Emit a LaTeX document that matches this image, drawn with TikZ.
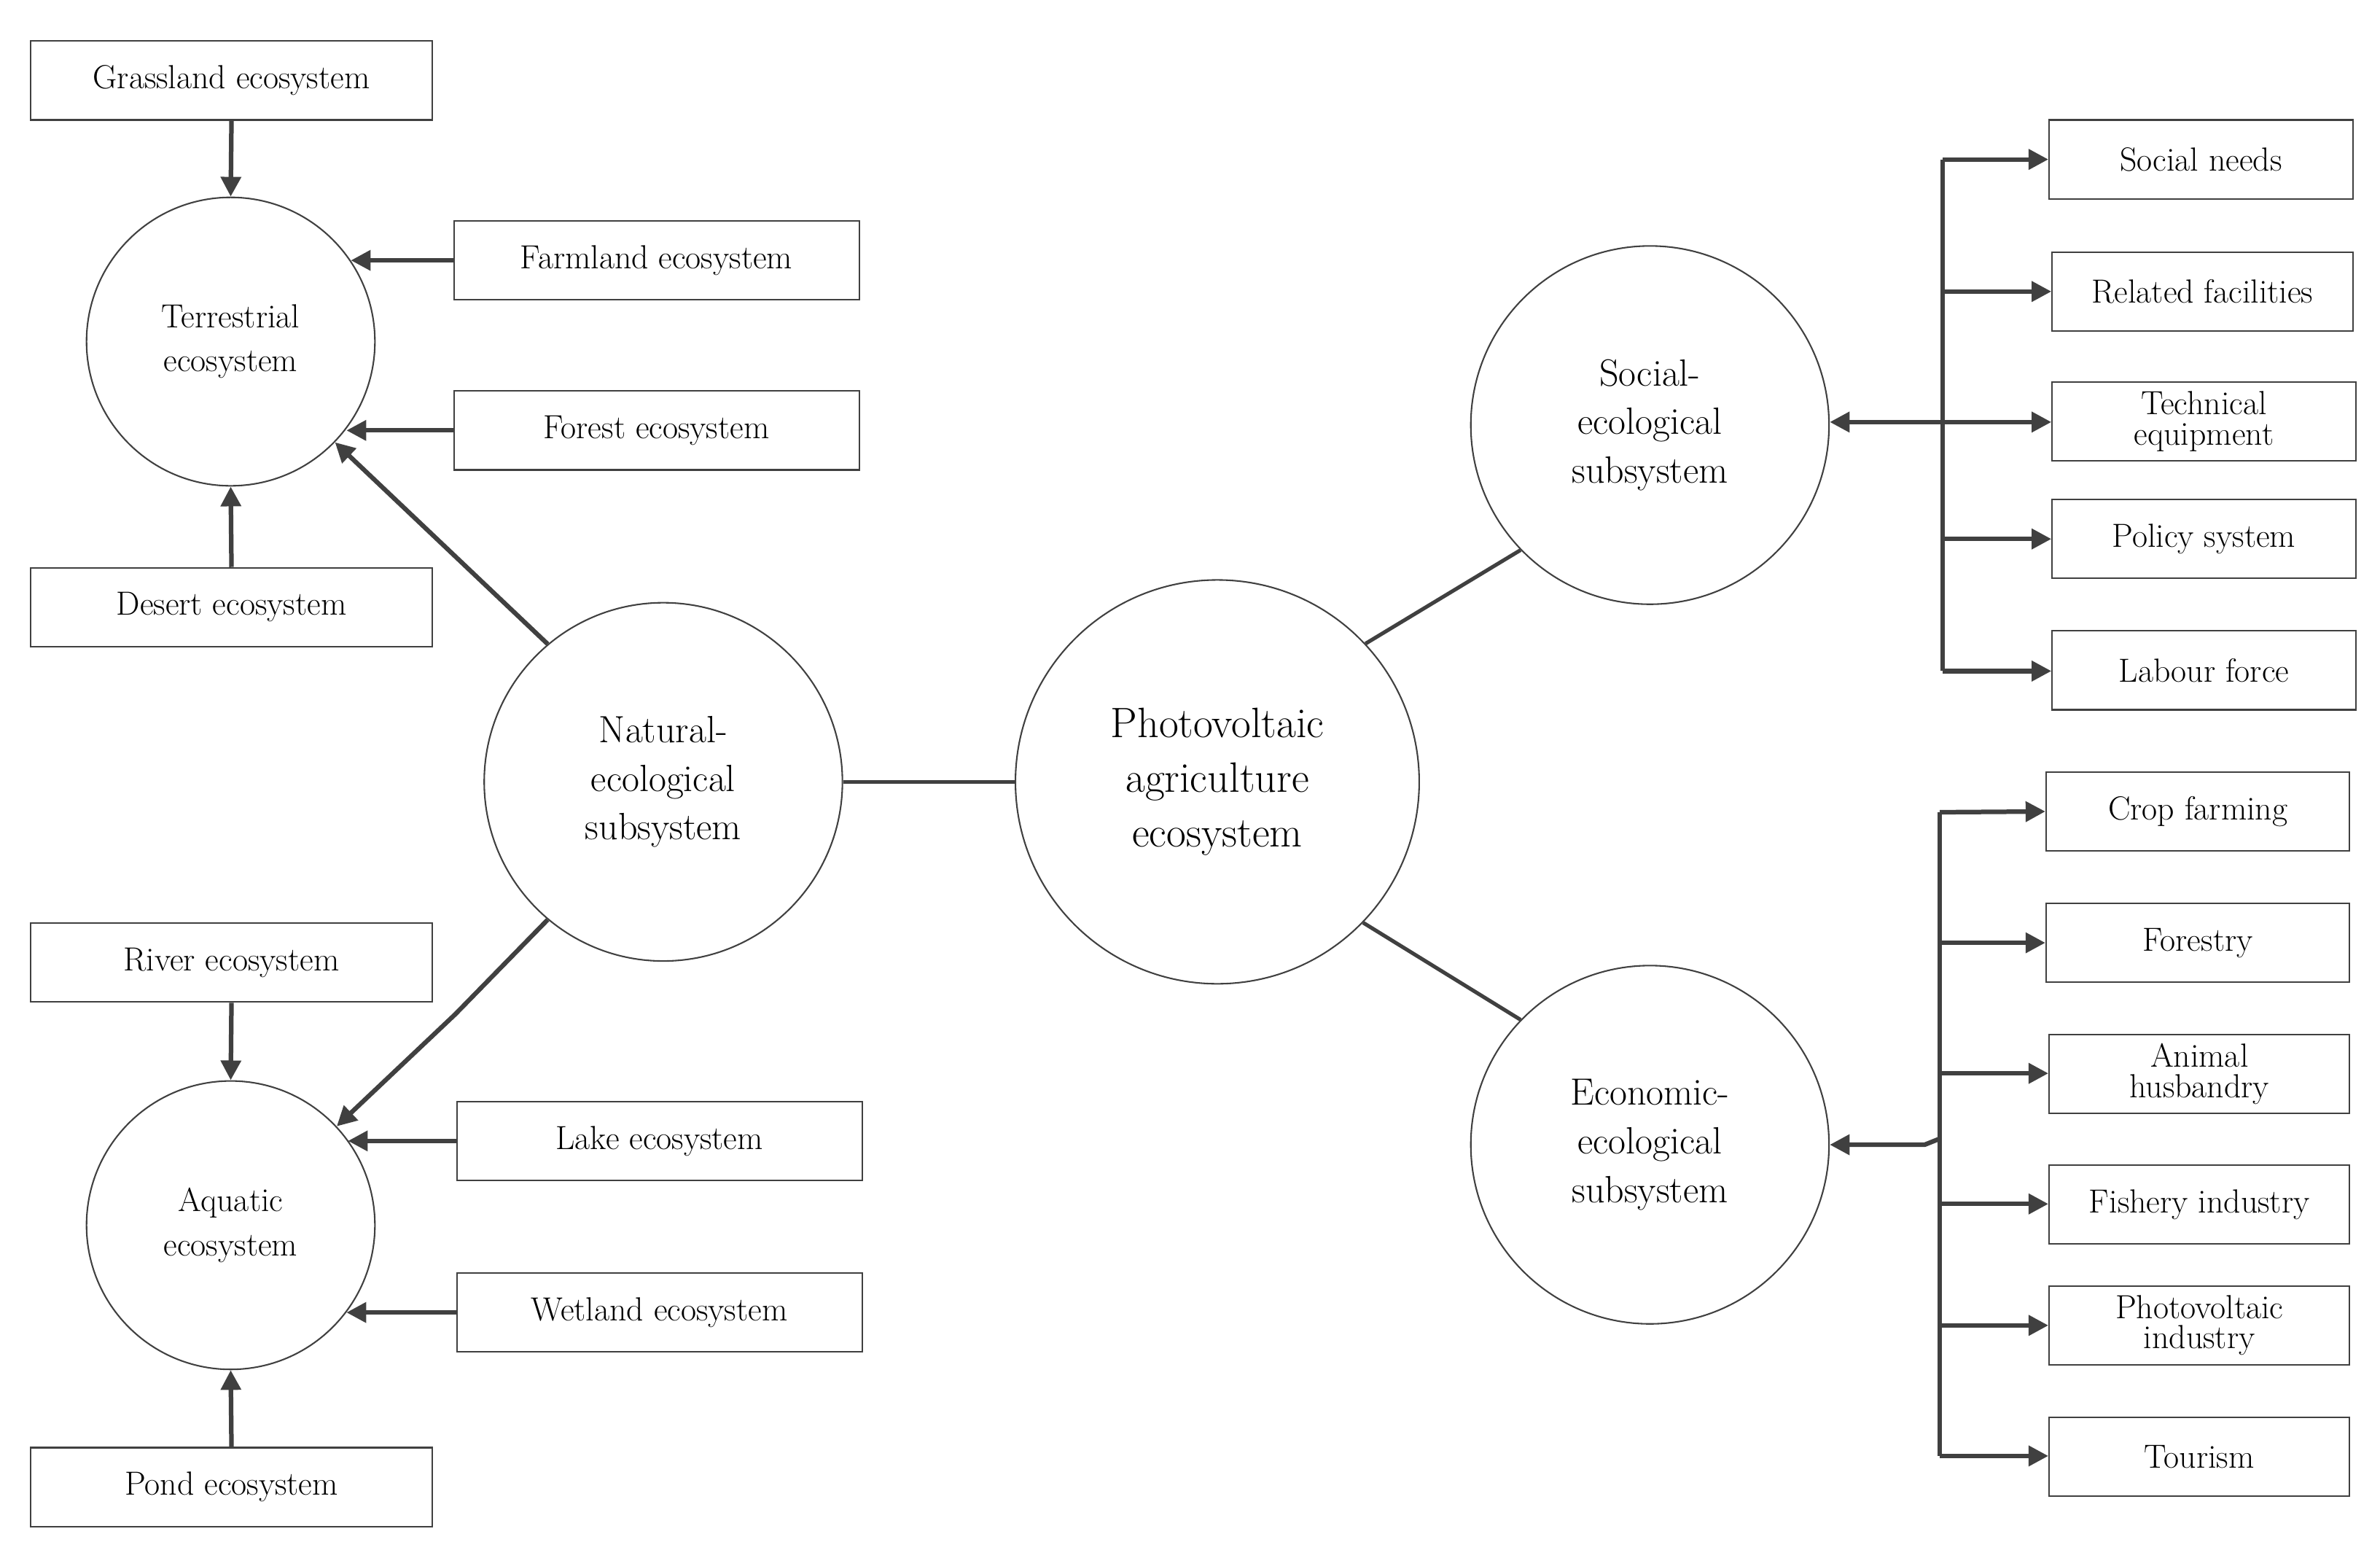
\documentclass[tikz,border=0pt]{standalone}
\usetikzlibrary{arrows.meta}
\definecolor{ln}{RGB}{64,64,64}
\begin{document}
\begin{tikzpicture}[x=1pt,y=-1pt,
 box/.style={draw=ln,line width=1pt,minimum height=52pt,inner sep=0pt,align=center,font=\fontsize{22}{23}\selectfont},
 circ/.style={draw=ln,line width=1pt,circle,inner sep=0pt,align=center},
 con/.style={ln,line width=3pt},
 arr/.style={con,-{Triangle[length=13pt,width=13pt]}}]
\useasboundingbox (0,0) rectangle (1568,1028);
\newcommand{\bx}[6]{\node[box,minimum width=#4-#2] (#1) at ({(#2+#4)/2},{(#3+#5)/2}) {#6};}
\bx{gras}{20}{27}{285}{79}{Grassland ecosystem}
\bx{farm}{299}{145}{566}{198}{Farmland ecosystem}
\bx{fore}{299}{258}{566}{309}{Forest ecosystem}
\bx{dese}{20}{374}{285}{426}{Desert ecosystem}
\bx{rive}{20}{608}{285}{660}{River ecosystem}
\bx{lake}{301}{725}{568}{778}{Lake ecosystem}
\bx{wetl}{301}{838}{568}{891}{Wetland ecosystem}
\bx{pond}{20}{953}{285}{1006}{Pond ecosystem}
\bx{sn}{1350}{79}{1550}{131}{Social needs}
\bx{rf}{1352}{166}{1550}{218}{Related facilities}
\bx{te}{1352}{252}{1552}{303}{Technical\\[-3pt]equipment}
\bx{ps}{1352}{329}{1552}{381}{Policy system}
\bx{lf}{1352}{415}{1552}{468}{Labour force}
\bx{cf}{1348}{508}{1548}{561}{Crop farming}
\bx{fo}{1348}{595}{1548}{647}{Forestry}
\bx{ah}{1350}{681}{1548}{734}{Animal\\[-3pt]husbandry}
\bx{fi}{1350}{767}{1548}{820}{Fishery industry}
\bx{pi}{1350}{847}{1548}{899}{Photovoltaic\\[-3pt]industry}
\bx{to}{1350}{933}{1548}{986}{Tourism}
\node[circ,minimum size=190pt,font=\fontsize{22}{29}\selectfont] (terr) at (152,225) {Terrestrial\\ecosystem};
\node[circ,minimum size=190pt,font=\fontsize{22}{29}\selectfont] (aqua) at (152,807) {Aquatic\\ecosystem};
\node[circ,minimum size=236pt,font=\fontsize{25}{32}\selectfont] (nat) at (437,515) {Natural-\\ecological\\subsystem};
\node[circ,minimum size=266pt,font=\fontsize{28}{36}\selectfont] (pv) at (802,515) {Photovoltaic\\agriculture\\ecosystem};
\node[circ,minimum size=236pt,font=\fontsize{25}{32}\selectfont] (soc) at (1087,280) {Social-\\ecological\\subsystem};
\node[circ,minimum size=236pt,font=\fontsize{25}{32}\selectfont] (eco) at (1087,754) {Economic-\\ecological\\subsystem};
% left
\draw[arr] (gras.south) -- (terr.north);
\draw[arr] (dese.north) -- (terr.south);
\draw[arr] (rive.south) -- (aqua.north);
\draw[arr] (pond.north) -- (aqua.south);
\draw[arr] (farm.west) -- (farm.west -| terr.34);
\draw[arr] (fore.west) -- (fore.west -| terr.-37);
\draw[arr] (lake.west) -- (lake.west -| aqua.36);
\draw[arr] (wetl.west) -- (wetl.west -| aqua.-37);
\draw[arr] (nat.130) -- (terr.-44);
\coordinate (bend) at (300,668);
\draw[arr] (nat.-130) -- (bend) -- (aqua.43);
% centre
\draw[con,line width=2.5pt] (nat.east) -- (pv.west);
\draw[con,line width=2.5pt] (pv.43) -- (soc.-136);
\draw[con,line width=2.5pt] (pv.-44) -- (eco.136);
% social bus
\coordinate (s1) at (1280,105);
\coordinate (s5) at (1280,442);
\coordinate (sm) at (1280,278);
\draw[con] (s1) -- (s5);
\draw[arr] (s1) -- (s1 -| sn.west);
\draw[arr] (1280,192) -- (rf.west);
\draw[arr] (sm) -- (te.west |- sm);
\draw[arr] (1280,355) -- (ps.west);
\draw[arr] (s5) -- (s5 -| lf.west);
\draw[arr] (sm) -- (soc.east |- sm);
% economic bus
\coordinate (e1) at (1278,535);
\coordinate (e6) at (1278,959);
\coordinate (em) at (1278,750);
\coordinate (ej) at (1268,754);
\draw[con] (e1) -- (e6);
\draw[arr] (e1) -- (cf.west);
\draw[arr] (1278,621) -- (fo.west);
\draw[arr] (1278,707) -- (ah.west |- 1278,707);
\draw[arr] (1278,793) -- (fi.west |- 1278,793);
\draw[arr] (1278,873) -- (pi.west |- 1278,873);
\draw[arr] (e6) -- (to.west |- e6);
\draw[arr] (em) -- (ej) -- (eco.east |- ej);
\end{tikzpicture}
\end{document}
